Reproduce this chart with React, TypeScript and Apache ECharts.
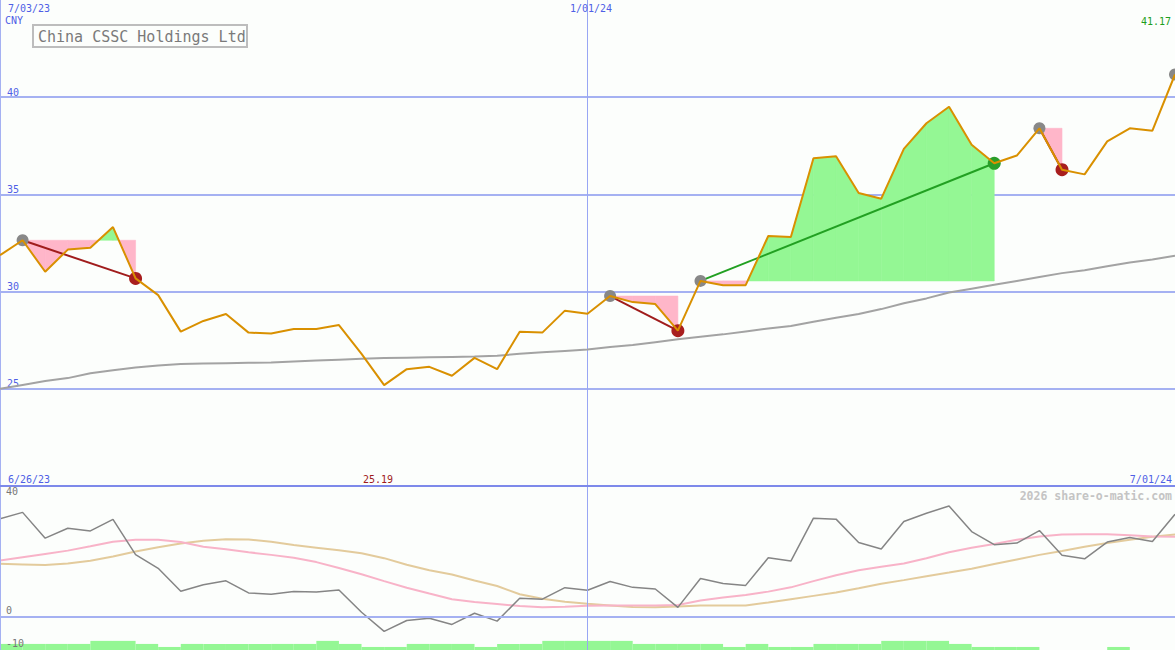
import React, { useEffect, useRef } from 'react';
import * as echarts from 'echarts';

const dates = [
  '7/03/23', '7/10/23', '7/17/23', '7/24/23', '7/31/23', '8/07/23', '8/14/23', '8/21/23', '8/28/23',
  '9/04/23', '9/11/23', '9/18/23', '9/25/23', '10/02/23', '10/09/23', '10/16/23', '10/23/23', '10/30/23',
  '11/06/23', '11/13/23', '11/20/23', '11/27/23', '12/04/23', '12/11/23', '12/18/23', '12/25/23',
  '1/01/24', '1/08/24', '1/15/24', '1/22/24', '1/29/24', '2/05/24', '2/12/24', '2/19/24', '2/26/24',
  '3/04/24', '3/11/24', '3/18/24', '3/25/24', '4/01/24', '4/08/24', '4/15/24', '4/22/24', '4/29/24',
  '5/06/24', '5/13/24', '5/20/24', '5/27/24', '6/03/24', '6/10/24', '6/17/24', '6/24/24', '7/01/24',
];

const closes = [
  31.87, 32.64, 31.02, 32.16, 32.25, 33.32, 30.68, 29.82, 27.94, 28.49,
  28.85, 27.89, 27.84, 28.08, 28.08, 28.28, 26.8, 25.19, 26.01, 26.13,
  25.67, 26.59, 26.01, 27.94, 27.89, 29.02, 28.86, 29.77, 29.46, 29.36,
  27.99, 30.55, 30.33, 30.33, 32.86, 32.81, 36.86, 36.96, 35.07, 34.78,
  37.34, 38.66, 39.51, 37.55, 36.6, 37.0, 38.4, 36.27, 36.03, 37.73,
  38.4, 38.28, 41.17,
];

const movingAvg = [
  25.0, 25.2, 25.4, 25.55, 25.8, 25.95, 26.1, 26.2, 26.28, 26.3,
  26.32, 26.34, 26.35, 26.4, 26.45, 26.5, 26.55, 26.58, 26.6, 26.62,
  26.64, 26.66, 26.7, 26.8, 26.88, 26.95, 27.02, 27.15, 27.25, 27.4,
  27.55, 27.68, 27.8, 27.95, 28.1, 28.23, 28.45, 28.65, 28.85, 29.1,
  29.4, 29.65, 29.95, 30.15, 30.35, 30.55, 30.75, 30.95, 31.1, 31.3,
  31.5, 31.65, 31.85,
];

const momentum = [
  29.97, 31.96, 24.1, 27.1, 26.3, 29.8, 19.1, 14.9, 7.9, 9.9,
  11.1, 7.4, 7.0, 7.8, 7.7, 8.3, 1.5, -4.3, -1.0, -0.3,
  -2.2, 1.2, -1.2, 5.8, 5.5, 9.0, 8.2, 10.9, 9.1, 8.6,
  3.0, 11.8, 10.3, 9.7, 18.1, 17.1, 30.2, 29.9, 22.8, 20.8,
  29.2, 31.7, 33.9, 26.1, 22.1, 22.6, 26.4, 18.9, 17.8, 22.9,
  24.3, 23.1, 31.4,
];

const fastSignal = [
  17.3, 18.3, 19.3, 20.3, 21.6, 23.0, 23.6, 23.6, 22.9, 21.5,
  20.7, 19.8, 19.0, 18.1, 16.8, 15.0, 13.1, 11.0, 9.0, 7.2,
  5.5, 4.6, 4.0, 3.4, 3.0, 3.2, 3.5, 3.6, 3.6, 3.6,
  3.7, 5.1, 6.0, 6.8, 7.8, 9.1, 11.0, 12.8, 14.3, 15.4,
  16.4, 18.0, 19.8, 21.2, 22.3, 23.6, 24.6, 25.2, 25.3, 25.3,
  25.0, 24.6, 24.5,
];

const slowSignal = [
  16.3, 16.1, 15.9, 16.4, 17.2, 18.5, 20.0, 21.3, 22.5, 23.3,
  23.8, 23.7, 23.0, 22.0, 21.2, 20.4, 19.5, 18.0, 16.0, 14.3,
  13.0, 11.2, 9.5, 7.0, 5.6, 4.7, 4.1, 3.6, 3.1, 3.0,
  3.3, 3.6, 3.6, 3.6, 4.5, 5.5, 6.5, 7.5, 8.8, 10.2,
  11.3, 12.5, 13.6, 14.8, 16.2, 17.6, 19.0, 20.2, 21.5, 22.6,
  23.6, 24.5, 25.2,
];

const volumeLevels = [
  2, 2, 2, 2, 3, 3, 2, 1, 2, 2, 2, 2, 2, 2, 3, 2, 1, 1, 2, 2,
  2, 1, 2, 2, 3, 3, 3, 3, 2, 2, 2, 2, 1, 2, 1, 1, 2, 2, 2, 3,
  3, 3, 2, 1, 1, 1, 0, 0, 0, 1, 0, 0,
];

const trendStart = [1, 27, 31, 46, 52];
const trendEnd = [6, 30, 44, 47, 52];

const titleText = 'China CSSC Holdings Ltd';
const currencyText = 'CNY';
const startDateTop = '7/03/23';
const markDate = '1/01/24';
const lastPriceText = '41.17';
const startDateBottom = '6/26/23';
const minPriceText = '25.19';
const endDateBottom = '7/01/24';
const creditText = '2026 share-o-matic.com';

const FONT = '"DejaVu Sans Mono", monospace';
const BG = '#fcfefc';
const GRID_BLUE = '#a5b1f2';
const VLINE_BLUE = '#98a6f4';
const LABEL_BLUE = '#4f5fe6';
const PINK = '#ffb6c9';
const GREEN = '#94f794';

function txt(text: string, x: number, y: number, color: string, size: number, align = 'left', bold = false) {
  return {
    type: 'text',
    x,
    y,
    z: 20,
    silent: true,
    style: {
      text,
      fill: color,
      font: `${bold ? 'bold ' : ''}${size}px ${FONT}`,
      textAlign: align,
      align,
      textVerticalAlign: 'middle',
      verticalAlign: 'middle',
    },
  };
}

export default function App() {
  const ref = useRef<HTMLDivElement>(null);

  useEffect(() => {
    if (!ref.current) return;
    const chart = echarts.init(ref.current, null, { renderer: 'svg' });

    const trendData = trendStart.map((s, k) => [s, trendEnd[k], closes[s]]);

    const option: any = {
      animation: false,
      backgroundColor: BG,
      grid: [
        { left: 0, right: 0, top: 0, height: 486, containLabel: false },
        { left: 0, right: 0, top: 486, bottom: 0, containLabel: false },
      ],
      xAxis: [
        {
          gridIndex: 0,
          type: 'category',
          data: dates,
          boundaryGap: false,
          axisLine: { show: false, onZero: false },
          axisTick: { show: false },
          axisLabel: { show: false },
          splitLine: {
            show: true,
            interval: (i: number) => dates[i] === markDate,
            lineStyle: { color: VLINE_BLUE, width: 1 },
          },
        },
        {
          gridIndex: 1,
          type: 'category',
          data: dates,
          boundaryGap: false,
          position: 'top',
          z: 6,
          axisLine: { show: true, onZero: false, lineStyle: { color: '#7d89ea', width: 2 } },
          axisTick: { show: false },
          axisLabel: { show: false },
          splitLine: {
            show: true,
            interval: (i: number) => dates[i] === markDate,
            lineStyle: { color: VLINE_BLUE, width: 1 },
          },
        },
        {
          gridIndex: 1,
          type: 'category',
          data: dates.slice(0, volumeLevels.length),
          boundaryGap: true,
          show: false,
        },
      ],
      yAxis: [
        {
          gridIndex: 0,
          type: 'value',
          min: 20,
          max: 45,
          interval: 5,
          axisLine: { show: true, lineStyle: { color: GRID_BLUE, width: 2 } },
          axisTick: { show: false },
          axisLabel: {
            inside: true,
            showMinLabel: false,
            showMaxLabel: false,
            color: LABEL_BLUE,
            fontFamily: FONT,
            fontSize: 10,
            verticalAlign: 'bottom',
            margin: 7,
          },
          splitLine: {
            show: true,
            showMinLine: false,
            showMaxLine: false,
            lineStyle: { color: GRID_BLUE, width: 2 },
          },
        },
        {
          gridIndex: 1,
          type: 'value',
          min: -10,
          max: 40,
          interval: 10,
          z: 6,
          axisLine: { show: true, lineStyle: { color: GRID_BLUE, width: 2 } },
          axisTick: { show: false },
          splitLine: { show: false },
          axisLabel: {
            inside: true,
            margin: 6,
            color: '#777777',
            fontFamily: FONT,
            fontSize: 10,
            verticalAlign: 'bottom',
            verticalAlignMaxLabel: 'top',
            padding: [0, 0, 2, 0],
            formatter: (v: number) => (v === 40 || v === 0 || v === -10 ? String(v) : ''),
          },
        },
        { gridIndex: 1, type: 'value', min: 0, max: 54, show: false },
      ],
      series: [
        {
          type: 'bar',
          xAxisIndex: 2,
          yAxisIndex: 2,
          data: volumeLevels,
          barCategoryGap: '0%',
          barGap: '0%',
          itemStyle: { color: GREEN },
          silent: true,
          z: 1,
        },
        {
          type: 'line',
          xAxisIndex: 1,
          yAxisIndex: 1,
          data: slowSignal,
          symbol: 'none',
          lineStyle: { color: '#e3cb9c', width: 2 },
          silent: true,
          z: 2,
        },
        {
          type: 'line',
          xAxisIndex: 1,
          yAxisIndex: 1,
          data: fastSignal,
          symbol: 'none',
          lineStyle: { color: '#f8b3c8', width: 2 },
          silent: true,
          z: 3,
        },
        {
          type: 'line',
          xAxisIndex: 1,
          yAxisIndex: 1,
          data: momentum,
          symbol: 'none',
          lineStyle: { color: '#858585', width: 1.5 },
          silent: true,
          z: 4,
          markLine: {
            silent: true,
            symbol: ['none', 'none'],
            label: { show: false },
            lineStyle: { color: GRID_BLUE, width: 2, type: 'solid' },
            data: [{ yAxis: 0 }],
          },
        },
        {
          type: 'line',
          xAxisIndex: 0,
          yAxisIndex: 0,
          data: movingAvg,
          symbol: 'none',
          lineStyle: { color: '#a3a3a3', width: 2 },
          silent: true,
          z: 2,
        },
        {
          type: 'custom',
          xAxisIndex: 0,
          yAxisIndex: 0,
          data: trendData,
          encode: { x: [0, 1], y: 2 },
          clip: false,
          silent: true,
          z: 3,
          renderItem: (_params: any, api: any) => {
            const s = api.value(0) as number;
            const e = api.value(1) as number;
            const base = api.value(2) as number;
            const children: any[] = [];
            const baseY = api.coord([s, base])[1];
            const poly = (pts: number[][], color: string) => ({
              type: 'polygon',
              shape: { points: pts },
              style: { fill: color, stroke: color, lineWidth: 0.6 },
            });
            for (let i = s; i < e; i++) {
              const p = api.coord([i, closes[i]]);
              const q = api.coord([i + 1, closes[i + 1]]);
              const da = closes[i] - base;
              const db = closes[i + 1] - base;
              if (da * db < 0) {
                const t = da / (da - db);
                const cx = p[0] + (q[0] - p[0]) * t;
                children.push(poly([p, [cx, baseY], [p[0], baseY]], da > 0 ? GREEN : PINK));
                children.push(poly([[cx, baseY], q, [q[0], baseY]], db > 0 ? GREEN : PINK));
              } else if (da + db !== 0) {
                children.push(poly([p, q, [q[0], baseY], [p[0], baseY]], da + db > 0 ? GREEN : PINK));
              }
            }
            const sp = api.coord([s, closes[s]]);
            if (e > s) {
              const ep = api.coord([e, closes[e]]);
              const up = closes[e] > closes[s];
              children.push({
                type: 'line',
                shape: { x1: sp[0], y1: sp[1], x2: ep[0], y2: ep[1] },
                style: { stroke: up ? '#22a022' : '#a01c1c', lineWidth: 2 },
              });
              children.push({ type: 'circle', shape: { cx: sp[0], cy: sp[1], r: 6 }, style: { fill: '#888888' } });
              children.push({
                type: 'circle',
                shape: { cx: ep[0], cy: ep[1], r: 6.5 },
                style: { fill: up ? '#2a9e2a' : '#a81e1e' },
              });
            } else {
              children.push({ type: 'circle', shape: { cx: sp[0], cy: sp[1], r: 6 }, style: { fill: '#888888' } });
            }
            return { type: 'group', children };
          },
        },
        {
          type: 'line',
          xAxisIndex: 0,
          yAxisIndex: 0,
          data: closes,
          symbol: 'none',
          lineStyle: { color: '#d99000', width: 2 },
          silent: true,
          z: 5,
        },
      ],
      graphic: [
        {
          type: 'rect',
          z: 19,
          silent: true,
          shape: { x: 33, y: 25, width: 214, height: 22 },
          style: { fill: BG, stroke: '#bdbdbd', lineWidth: 2 },
        },
        txt(titleText, 38, 36.5, '#7a7a7a', 15),
        txt(startDateTop, 8, 8.5, LABEL_BLUE, 10),
        txt(currencyText, 5, 20, LABEL_BLUE, 10),
        txt(markDate, 591, 8.5, LABEL_BLUE, 10, 'center'),
        txt(lastPriceText, 1171, 21, '#1e9e1e', 10, 'right'),
        txt(startDateBottom, 8, 479, LABEL_BLUE, 10),
        txt(minPriceText, 363, 479, '#a01c1c', 10),
        txt(endDateBottom, 1172, 479, LABEL_BLUE, 10, 'right'),
        txt(creditText, 1172, 496, '#c4c4c4', 11.5, 'right', true),
      ],
    };

    chart.setOption(option);
    return () => chart.dispose();
  }, []);

  return (
    <div
      ref={ref}
      style={{ position: 'absolute', left: 0, top: 0, width: 1175, height: 650 }}
    />
  );
}
